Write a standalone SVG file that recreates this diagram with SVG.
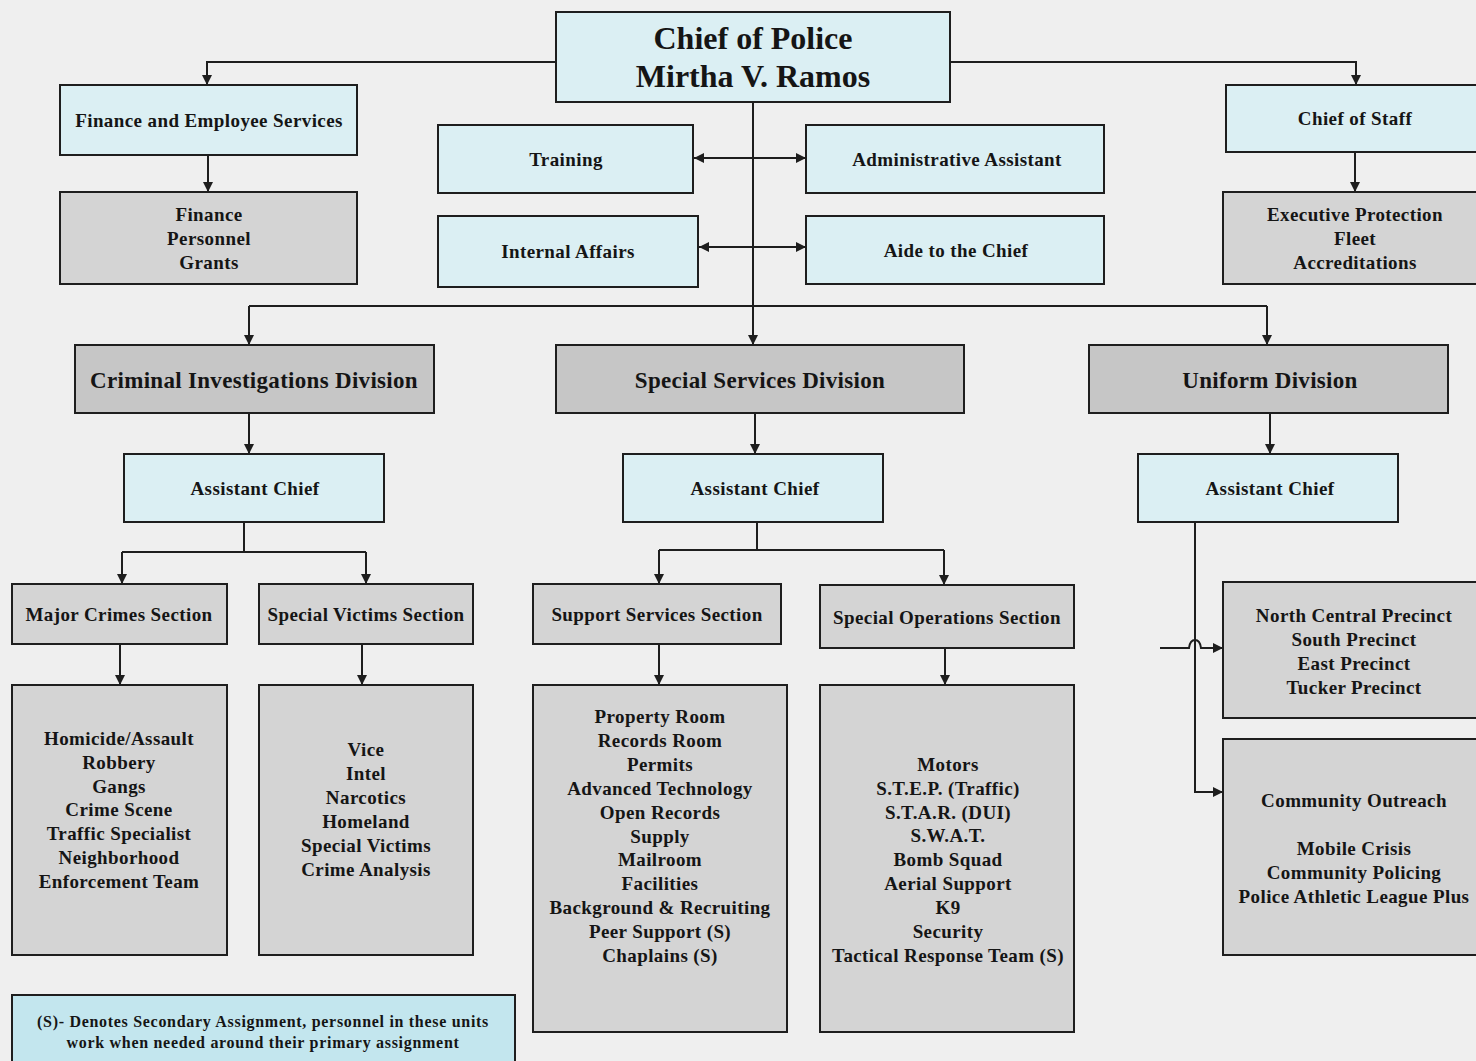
<svg xmlns="http://www.w3.org/2000/svg" width="1476" height="1061" viewBox="0 0 1476 1061">
<style>
.bg{fill:#efefef}
.b{fill:#dbeff3;stroke:#1e1e1e;stroke-width:2}
.g{fill:#d4d4d4;stroke:#1e1e1e;stroke-width:2}
.d{fill:#c6c6c6;stroke:#1e1e1e;stroke-width:2}
.l{fill:#c3e6ee;stroke:#1e1e1e;stroke-width:2}
text{font-family:"Liberation Serif","Times New Roman",serif;font-weight:bold;fill:#151515;text-anchor:middle;dominant-baseline:central}
.t{font-size:19px;letter-spacing:0.4px}
.s{font-size:16px;letter-spacing:0.7px}
.h{font-size:23px;letter-spacing:0.3px}
.c{font-size:32px}
.con path{stroke:#1e1e1e;stroke-width:2;fill:none}
</style>
<defs>
<marker id="ah" markerUnits="userSpaceOnUse" markerWidth="12" markerHeight="12" refX="10" refY="6" orient="auto-start-reverse">
<path d="M0,1 L10,6 L0,11 Z" fill="#1e1e1e"/>
</marker>
</defs>
<rect class="bg" x="0" y="0" width="1476" height="1061"/>

<g class="con">
<path d="M556 62 H207 V85" marker-end="url(#ah)"/>
<path d="M950 62 H1356 V85" marker-end="url(#ah)"/>
<path d="M208 155 V192" marker-end="url(#ah)"/>
<path d="M1355 152 V192" marker-end="url(#ah)"/>
<path d="M753 102 V345" marker-end="url(#ah)"/>
<path d="M694 158 H806" marker-start="url(#ah)" marker-end="url(#ah)"/>
<path d="M699 247 H806" marker-start="url(#ah)" marker-end="url(#ah)"/>
<path d="M249 306 H1267"/>
<path d="M249 306 V345" marker-end="url(#ah)"/>
<path d="M1267 306 V345" marker-end="url(#ah)"/>
<path d="M249 413 V454" marker-end="url(#ah)"/>
<path d="M755 413 V454" marker-end="url(#ah)"/>
<path d="M1270 413 V454" marker-end="url(#ah)"/>
<path d="M244 522 V552"/>
<path d="M122 552 H366"/>
<path d="M122 552 V584" marker-end="url(#ah)"/>
<path d="M366 552 V584" marker-end="url(#ah)"/>
<path d="M120 644 V685" marker-end="url(#ah)"/>
<path d="M362 644 V685" marker-end="url(#ah)"/>
<path d="M757 522 V550"/>
<path d="M659 550 H944"/>
<path d="M659 550 V584" marker-end="url(#ah)"/>
<path d="M944 550 V585" marker-end="url(#ah)"/>
<path d="M659 644 V685" marker-end="url(#ah)"/>
<path d="M945 648 V685" marker-end="url(#ah)"/>
<path d="M1195 522 V792 H1223" marker-end="url(#ah)"/>
<path d="M1160 648 H1189 Q1190 640 1195 640 Q1200 640 1201 648 H1223" marker-end="url(#ah)"/>
</g>

<g id="chief"><rect class="b" x="556" y="12" width="394" height="90"/><text class="c" x="753" y="38">Chief of Police</text><text class="c" x="753" y="76">Mirtha V. Ramos</text></g>
<g id="finance-emp"><rect class="b" x="60" y="85" width="297" height="70"/><text class="t" x="209" y="120">Finance and Employee Services</text></g>
<g id="finance-units"><rect class="g" x="60" y="192" width="297" height="92"/><text class="t" x="209" y="214">Finance</text><text class="t" x="209" y="238">Personnel</text><text class="t" x="209" y="262">Grants</text></g>
<g id="training"><rect class="b" x="438" y="125" width="255" height="68"/><text class="t" x="566" y="159">Training</text></g>
<g id="admin-assistant"><rect class="b" x="806" y="125" width="298" height="68"/><text class="t" x="957" y="159">Administrative Assistant</text></g>
<g id="internal-affairs"><rect class="b" x="438" y="216" width="260" height="71"/><text class="t" x="568" y="251">Internal Affairs</text></g>
<g id="aide"><rect class="b" x="806" y="216" width="298" height="68"/><text class="t" x="956" y="250">Aide to the Chief</text></g>
<g id="chief-of-staff"><rect class="b" x="1226" y="85" width="260" height="67"/><text class="t" x="1355" y="118">Chief of Staff</text></g>
<g id="staff-units"><rect class="g" x="1223" y="192" width="263" height="92"/><text class="t" x="1355" y="214">Executive Protection</text><text class="t" x="1355" y="238">Fleet</text><text class="t" x="1355" y="262">Accreditations</text></g>

<g id="cid"><rect class="d" x="75" y="345" width="359" height="68"/><text class="h" x="254" y="380">Criminal Investigations Division</text></g>
<g id="ssd"><rect class="d" x="556" y="345" width="408" height="68"/><text class="h" x="760" y="380">Special Services Division</text></g>
<g id="uniform"><rect class="d" x="1089" y="345" width="359" height="68"/><text class="h" x="1270" y="380">Uniform Division</text></g>

<g id="ac-cid"><rect class="b" x="124" y="454" width="260" height="68"/><text class="t" x="255" y="488">Assistant Chief</text></g>
<g id="ac-ssd"><rect class="b" x="623" y="454" width="260" height="68"/><text class="t" x="755" y="488">Assistant Chief</text></g>
<g id="ac-uniform"><rect class="b" x="1138" y="454" width="260" height="68"/><text class="t" x="1270" y="488">Assistant Chief</text></g>

<g id="major-crimes"><rect class="g" x="12" y="584" width="215" height="60"/><text class="t" x="119" y="614">Major Crimes Section</text></g>
<g id="special-victims"><rect class="g" x="259" y="584" width="214" height="60"/><text class="t" x="366" y="614">Special Victims Section</text></g>
<g id="support-services"><rect class="g" x="533" y="584" width="248" height="60"/><text class="t" x="657" y="614">Support Services Section</text></g>
<g id="special-ops"><rect class="g" x="820" y="585" width="254" height="63"/><text class="t" x="947" y="617">Special Operations Section</text></g>

<g id="major-units"><rect class="g" x="12" y="685" width="215" height="270"/>
<text class="t" x="119" y="738">Homicide/Assault</text><text class="t" x="119" y="762">Robbery</text><text class="t" x="119" y="786">Gangs</text><text class="t" x="119" y="809">Crime Scene</text><text class="t" x="119" y="833">Traffic Specialist</text><text class="t" x="119" y="857">Neighborhood</text><text class="t" x="119" y="881">Enforcement Team</text></g>
<g id="victims-units"><rect class="g" x="259" y="685" width="214" height="270"/>
<text class="t" x="366" y="749">Vice</text><text class="t" x="366" y="773">Intel</text><text class="t" x="366" y="797">Narcotics</text><text class="t" x="366" y="821">Homeland</text><text class="t" x="366" y="845">Special Victims</text><text class="t" x="366" y="869">Crime Analysis</text></g>
<g id="support-units"><rect class="g" x="533" y="685" width="254" height="347"/>
<text class="t" x="660" y="716">Property Room</text><text class="t" x="660" y="740">Records Room</text><text class="t" x="660" y="764">Permits</text><text class="t" x="660" y="788">Advanced Technology</text><text class="t" x="660" y="812">Open Records</text><text class="t" x="660" y="836">Supply</text><text class="t" x="660" y="859">Mailroom</text><text class="t" x="660" y="883">Facilities</text><text class="t" x="660" y="907">Background &amp; Recruiting</text><text class="t" x="660" y="931">Peer Support (S)</text><text class="t" x="660" y="955">Chaplains (S)</text></g>
<g id="ops-units"><rect class="g" x="820" y="685" width="254" height="347"/>
<text class="t" x="948" y="764">Motors</text><text class="t" x="948" y="788">S.T.E.P. (Traffic)</text><text class="t" x="948" y="812">S.T.A.R. (DUI)</text><text class="t" x="948" y="835">S.W.A.T.</text><text class="t" x="948" y="859">Bomb Squad</text><text class="t" x="948" y="883">Aerial Support</text><text class="t" x="948" y="907">K9</text><text class="t" x="948" y="931">Security</text><text class="t" x="948" y="955">Tactical Response Team (S)</text></g>
<g id="precincts"><rect class="g" x="1223" y="582" width="263" height="136"/>
<text class="t" x="1354" y="615">North Central Precinct</text><text class="t" x="1354" y="639">South Precinct</text><text class="t" x="1354" y="663">East Precinct</text><text class="t" x="1354" y="687">Tucker Precinct</text></g>
<g id="outreach"><rect class="g" x="1223" y="739" width="263" height="216"/>
<text class="t" x="1354" y="800">Community Outreach</text><text class="t" x="1354" y="848">Mobile Crisis</text><text class="t" x="1354" y="872">Community Policing</text><text class="t" x="1354" y="896">Police Athletic League Plus</text></g>

<g id="legend"><rect class="l" x="12" y="995" width="503" height="76"/>
<text class="s" x="263" y="1021">(S)- Denotes Secondary Assignment, personnel in these units</text><text class="s" x="263" y="1042">work when needed around their primary assignment</text></g>
</svg>
